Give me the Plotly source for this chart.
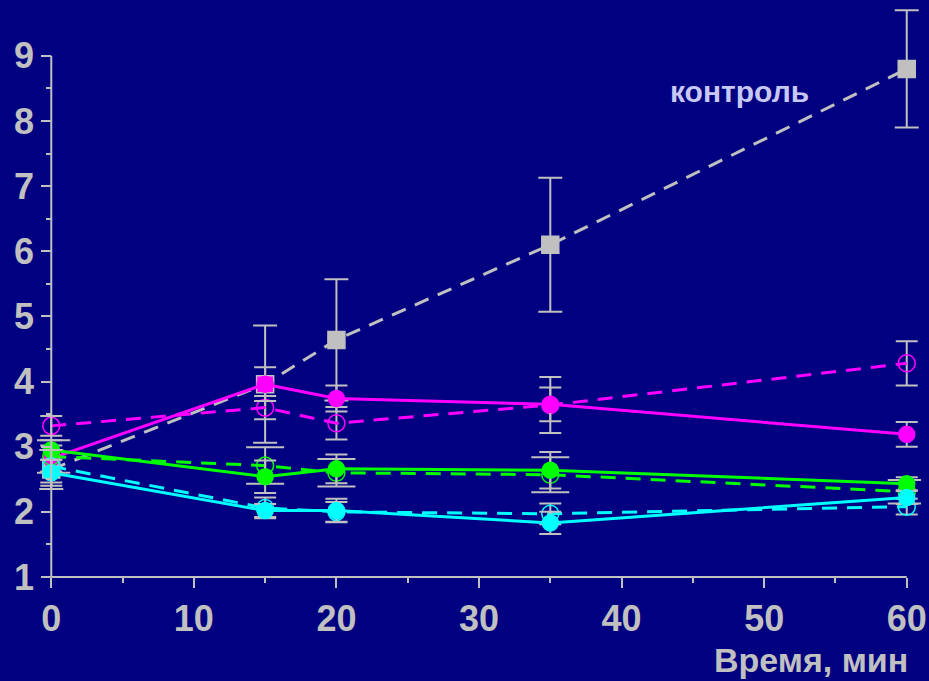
import plotly.graph_objects as go

times = [0, 15, 20, 35, 60]

control = [2.65, 3.96, 4.64, 6.1, 8.8]
control_err = [0.3, 0.9, 0.93, 1.03, 0.9]

mag_open = [3.32, 3.6, 3.36, 3.64, 4.28]
mag_open_err = [0.15, 0.18, 0.25, 0.43, 0.34]
mag_fill = [2.82, 3.96, 3.74, 3.65, 3.19]
mag_fill_err = [0.2, 0.26, 0.2, 0.26, 0.19]

green_open = [2.85, 2.71, 2.6, 2.57, 2.31]
green_open_err = [0.25, 0.28, 0.21, 0.27, 0.18]
green_fill = [2.95, 2.54, 2.66, 2.64, 2.43]
green_fill_err = [0.15, 0.25, 0.22, 0.28, 0.1]

cyan_open = [2.7, 2.06, 2.0, 1.97, 2.08]
cyan_open_err = [0.25, 0.16, 0.15, 0.16, 0.12]
cyan_fill = [2.6, 2.02, 2.02, 1.83, 2.22]
cyan_fill_err = [0.2, 0.1, 0.18, 0.17, 0.1]

x_ticks = [0, 10, 20, 30, 40, 50, 60]
y_ticks = [1, 2, 3, 4, 5, 6, 7, 8, 9]

# axis extents vs. visible window (window is a little larger so caps are not clipped)
x_lo, x_hi = 0, 60
x_view = (-1, 61)
y_lo, y_hi = 1, 9
y_view = (1, 9.75)

GRAY = "#c0c0c0"
BG = "#000080"
MAG = "#ff00ff"
GRN = "#00ff00"
CYN = "#00ffff"
FONT = "Liberation Sans, Arial, sans-serif"
DASH = "15px,10px"

fig = go.Figure()

def add(y, err, color, dash, symbol, size, capw, lw=3, mcolor=None):
    fig.add_trace(go.Scatter(
        x=times, y=y, mode="lines+markers", cliponaxis=False,
        line=dict(color=color, width=lw, dash=dash),
        marker=dict(symbol=symbol, size=size, color=mcolor if mcolor else color,
                    line=dict(color=color, width=1.5)),
        error_y=dict(type="data", array=err, visible=True, color=GRAY,
                     thickness=2, width=capw),
        showlegend=False,
    ))

add(control, control_err, GRAY, DASH, "square", 17, 12,
    mcolor=[GRAY, MAG, GRAY, GRAY, GRAY])
add(mag_open, mag_open_err, MAG, DASH, "circle-open", 17, 11)
add(mag_fill, mag_fill_err, MAG, "solid", "circle", 16, 11)
add(green_open, green_open_err, GRN, DASH, "circle-open", 17, 19)
add(green_fill, green_fill_err, GRN, "solid", "circle", 16, 11)
add(cyan_open, cyan_open_err, CYN, DASH, "circle-open", 17, 11)
add(cyan_fill, cyan_fill_err, CYN, "solid", "circle", 16, 11)

def px(v):
    return (v - x_view[0]) / (x_view[1] - x_view[0])

def py(v):
    return (v - y_view[0]) / (y_view[1] - y_view[0])

# axis lines spanning only the labelled extents
fig.add_shape(type="line", xref="paper", yref="paper", x0=px(x_lo), x1=px(x_lo),
              y0=py(y_lo), y1=py(y_hi), line=dict(color=GRAY, width=2), layer="above")
fig.add_shape(type="line", xref="paper", yref="paper", x0=px(x_lo), x1=px(x_hi),
              y0=py(y_lo), y1=py(y_lo), line=dict(color=GRAY, width=2), layer="above")

fig.add_annotation(x=48.3, y=8.45, text="<b>контроль</b>", showarrow=False,
                   font=dict(family=FONT, size=30, color="#c8c8f4"))
fig.add_annotation(xref="x", yref="paper", x=60.2, y=-0.146,
                   xanchor="right", yanchor="middle",
                   text="<b>Время, мин</b>", showarrow=False,
                   font=dict(family=FONT, size=34, color=GRAY))

unit = (907 - 51) / (x_hi - x_lo)
fig.update_layout(
    width=929, height=681,
    margin=dict(l=51 - unit * (x_lo - x_view[0]), r=22 - unit * (x_view[1] - x_hi),
                t=7, b=104),
    paper_bgcolor=BG, plot_bgcolor=BG,
    font=dict(family=FONT, color=GRAY),
)
fig.update_xaxes(
    range=list(x_view), tickvals=x_ticks, ticktext=[f"<b>{v}</b>" for v in x_ticks],
    automargin=False,
    showgrid=False, zeroline=False, showline=False,
    ticks="outside", ticklen=10, tickwidth=2, tickcolor=GRAY,
    tickfont=dict(family=FONT, size=36, color=GRAY),
    minor=dict(tickvals=[5, 15, 25, 35, 45, 55], ticks="outside", ticklen=5,
               tickwidth=2, tickcolor=GRAY),
)
fig.update_yaxes(
    range=list(y_view), tickvals=y_ticks,
    ticktext=[f"<b>{v}</b>" for v in y_ticks],
    anchor="free", position=px(x_lo),
    automargin=False,
    showgrid=False, zeroline=False, showline=False,
    ticks="outside", ticklen=10, tickwidth=2, tickcolor=GRAY,
    tickfont=dict(family=FONT, size=36, color=GRAY),
    minor=dict(tickvals=[1.5, 2.5, 3.5, 4.5, 5.5, 6.5, 7.5, 8.5], ticks="outside",
               ticklen=5, tickwidth=2, tickcolor=GRAY),
)

fig.write_html("out.html", config={"displayModeBar": False},
               post_script="document.body.style.margin='0';document.body.style.padding='0';document.body.style.overflow='hidden';document.body.style.background='#000080';")
